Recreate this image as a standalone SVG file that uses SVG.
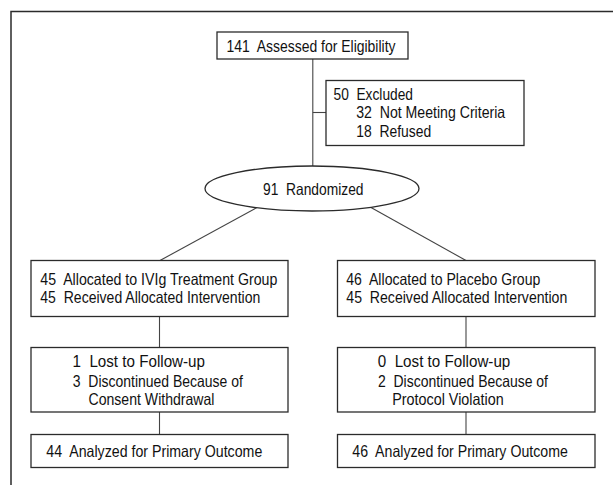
<svg xmlns="http://www.w3.org/2000/svg" width="613" height="485" viewBox="0 0 613 485">
<style>
  .bg { fill: #ffffff; }
  .frame { fill: none; stroke: #2b2b2b; stroke-width: 1.5; }
  .box { fill: #ffffff; stroke: #2b2b2b; stroke-width: 1.3; }
  .conn { fill: none; stroke: #444444; stroke-width: 1.1; }
  text { font-family: "Liberation Sans Narrow", "Liberation Sans", Arial, sans-serif; font-size: 16.5px; fill: #111111; white-space: pre; }
</style>
<rect class="bg" x="0" y="0" width="613" height="485"/>
<path class="frame" d="M11,486 V11.5 H614"/>

<g id="connectors">
  <line class="conn" x1="312.8" y1="59" x2="312.8" y2="166"/>
  <line class="conn" x1="312.8" y1="112.5" x2="326" y2="112.5"/>
  <line class="conn" x1="257" y1="207.6" x2="160" y2="260.5"/>
  <line class="conn" x1="371" y1="207.4" x2="466" y2="260.5"/>
  <line class="conn" x1="159.5" y1="316.5" x2="159.5" y2="347.5"/>
  <line class="conn" x1="159.5" y1="412" x2="159.5" y2="434.5"/>
  <line class="conn" x1="466" y1="316.5" x2="466" y2="347.5"/>
  <line class="conn" x1="466" y1="412" x2="466" y2="434.5"/>
</g>

<g id="assessed">
  <rect class="box" x="217" y="32" width="191" height="27"/>
  <text x="226.5" y="51.5" textLength="169" lengthAdjust="spacingAndGlyphs" xml:space="preserve">141  Assessed for Eligibility</text>
</g>

<g id="excluded">
  <rect class="box" x="326" y="80.5" width="198" height="65"/>
  <text x="333.5" y="99.5" textLength="79.5" lengthAdjust="spacingAndGlyphs" xml:space="preserve">50  Excluded</text>
  <text x="356.2" y="118" textLength="149" lengthAdjust="spacingAndGlyphs" xml:space="preserve">32  Not Meeting Criteria</text>
  <text x="356.2" y="137" textLength="75" lengthAdjust="spacingAndGlyphs" xml:space="preserve">18  Refused</text>
</g>

<g id="randomized">
  <ellipse class="box" cx="312" cy="188.5" rx="107" ry="22.5"/>
  <text x="263" y="194.5" textLength="100.5" lengthAdjust="spacingAndGlyphs" xml:space="preserve">91  Randomized</text>
</g>

<g id="ivig-allocated">
  <rect class="box" x="31" y="260.5" width="257" height="56"/>
  <text x="40.3" y="284.6" textLength="237" lengthAdjust="spacingAndGlyphs" xml:space="preserve">45  Allocated to IVIg Treatment Group</text>
  <text x="40.3" y="302.8" textLength="220" lengthAdjust="spacingAndGlyphs" xml:space="preserve">45  Received Allocated Intervention</text>
</g>

<g id="placebo-allocated">
  <rect class="box" x="337.5" y="260.5" width="257.5" height="56"/>
  <text x="346.3" y="284.6" textLength="194" lengthAdjust="spacingAndGlyphs" xml:space="preserve">46  Allocated to Placebo Group</text>
  <text x="346.3" y="302.8" textLength="221" lengthAdjust="spacingAndGlyphs" xml:space="preserve">45  Received Allocated Intervention</text>
</g>

<g id="ivig-followup">
  <rect class="box" x="31" y="347.5" width="257" height="64.5"/>
  <text x="72.5" y="367" textLength="132.5" lengthAdjust="spacingAndGlyphs" xml:space="preserve">1  Lost to Follow-up</text>
  <text x="72.8" y="387.3" textLength="170" lengthAdjust="spacingAndGlyphs" xml:space="preserve">3  Discontinued Because of</text>
  <text x="88.5" y="404.7" textLength="126" lengthAdjust="spacingAndGlyphs" xml:space="preserve">Consent Withdrawal</text>
</g>

<g id="placebo-followup">
  <rect class="box" x="337.5" y="347.5" width="257.5" height="64.5"/>
  <text x="377.8" y="367" textLength="132.5" lengthAdjust="spacingAndGlyphs" xml:space="preserve">0  Lost to Follow-up</text>
  <text x="378" y="387.3" textLength="170" lengthAdjust="spacingAndGlyphs" xml:space="preserve">2  Discontinued Because of</text>
  <text x="392.2" y="404.7" textLength="111.5" lengthAdjust="spacingAndGlyphs" xml:space="preserve">Protocol Violation</text>
</g>

<g id="ivig-analyzed">
  <rect class="box" x="31" y="434.5" width="257" height="33"/>
  <text x="46.3" y="457.3" textLength="216" lengthAdjust="spacingAndGlyphs" xml:space="preserve">44  Analyzed for Primary Outcome</text>
</g>

<g id="placebo-analyzed">
  <rect class="box" x="337.5" y="434.5" width="257.5" height="33"/>
  <text x="352.3" y="457.3" textLength="215.5" lengthAdjust="spacingAndGlyphs" xml:space="preserve">46  Analyzed for Primary Outcome</text>
</g>
</svg>
